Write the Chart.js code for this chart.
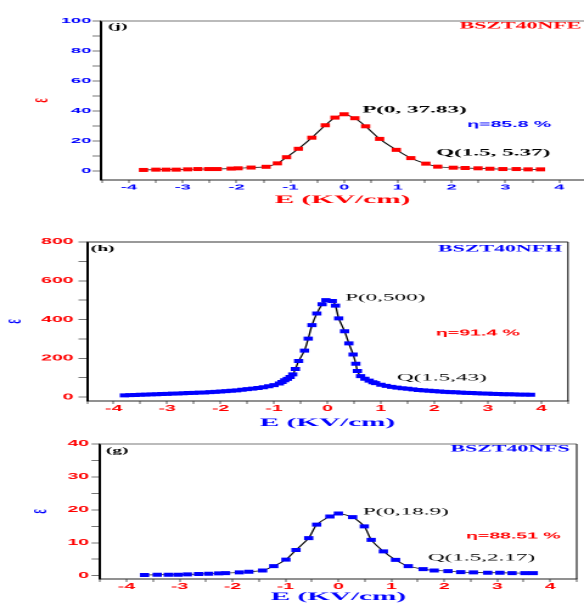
<!DOCTYPE html>
<html>
<head>
<meta charset="utf-8">
<script src="https://cdn.jsdelivr.net/npm/chart.js@4/dist/chart.umd.min.js"></script>
<style>
body { margin: 0; background: #fff; width: 584px; height: 604px; overflow: hidden; position: relative; }
canvas { position: absolute; left: 0; }
</style>
</head>
<body>
<canvas id="grafico_j" width="240" height="207" style="top:0px;width:584px;height:207px"></canvas>
<canvas id="grafico_h" width="240" height="223" style="top:207px;width:584px;height:223px"></canvas>
<canvas id="grafico_g" width="240" height="174" style="top:430px;width:584px;height:174px"></canvas>
<script>
// (j) BSZT40NFE
var campoJ = [-3.73, -3.5, -3.31, -3.12, -2.91, -2.72, -2.52, -2.36, -2.1, -1.97, -1.73, -1.45, -1.24, -1.07, -0.85, -0.6, -0.35, -0.17, 0,
    0.2, 0.4, 0.66, 0.97, 1.24, 1.52, 1.74, 2.03, 2.25, 2.49, 2.71, 2.95, 3.2, 3.42, 3.65];
var epsJ = [0.7, 0.9, 0.9, 0.9, 1.1, 1.3, 1.3, 1.3, 1.6, 1.8, 2.3, 2.8, 5.1, 9.2, 14.8, 22.2, 30.5, 35.6, 37.83,
    35.2, 29.8, 21.4, 14.1, 8.6, 4.9, 2.9, 2.2, 2.0, 1.8, 1.5, 1.3, 1.3, 1.1, 1.1];

// (h) BSZT40NFH
var campoH = [-3.8, -3.7, -3.6, -3.5, -3.4, -3.3, -3.2, -3.1, -3.0, -2.9, -2.8, -2.7, -2.6, -2.5, -2.4, -2.3, -2.2, -2.1, -2.0, -1.9,
    -1.8, -1.7, -1.6, -1.5, -1.4, -1.3, -1.2, -1.1, -1.0, -0.9,
    -0.85, -0.8, -0.75, -0.7, -0.65, -0.6, -0.54, -0.43, -0.36, -0.29, -0.2, -0.1, -0.03, 0.09, 0.15, 0.21, 0.32, 0.4, 0.48, 0.53,
    0.56, 0.62, 0.7, 0.78, 0.85,
    0.9, 1.0, 1.1, 1.2, 1.3, 1.4, 1.5, 1.6, 1.7, 1.8, 1.9, 2.0, 2.1, 2.2, 2.3, 2.4, 2.5, 2.6, 2.7, 2.8, 2.9, 3.0, 3.1, 3.2, 3.3,
    3.4, 3.5, 3.6, 3.7, 3.8];
var epsH = [9, 10, 11, 12, 13, 14, 15, 16, 17, 18, 19, 20, 21, 22, 23, 24, 26, 27, 29, 31,
    33, 35, 38, 41, 44, 47, 51, 56, 62, 70,
    78, 87, 94, 104, 117, 145, 186, 240, 302, 371, 431, 479, 500, 496, 472, 406, 340, 277, 220, 172,
    135, 108, 95, 85, 77,
    72, 64, 58, 53, 49, 46, 43, 40, 37, 35, 33, 31, 29, 27, 26, 25, 23, 22, 21, 20, 19, 18, 17, 16, 15,
    15, 14, 13, 13, 12];

// (g) BSZT40NFS
var campoG = [-3.66, -3.42, -3.21, -3.03, -2.85, -2.64, -2.45, -2.26, -2.13, -1.87, -1.69, -1.43, -1.22, -0.99, -0.8, -0.56, -0.41, -0.16, 0,
    0.27, 0.49, 0.62, 0.85, 1.08, 1.32, 1.6, 1.81, 2.07, 2.31, 2.55, 2.82, 3.05, 3.28, 3.52, 3.68];
var epsG = [0.2, 0.3, 0.3, 0.3, 0.4, 0.5, 0.6, 0.7, 0.8, 1.0, 1.2, 1.6, 2.9, 4.9, 7.8, 11.4, 15.5, 18.0, 18.9,
    17.8, 15.0, 10.9, 7.4, 4.8, 2.9, 2.0, 1.6, 1.4, 1.1, 1.0, 0.9, 0.9, 0.8, 0.8, 0.8];

var VERMELHO = '#ff0000';
var AZUL = '#0000ff';

geraGrafico('grafico_j', {
    campo: campoJ, eps: epsJ, marca: VERMELHO, rotulos: AZUL, tituloX: VERMELHO, tituloY: VERMELHO,
    yMin: -6, yMax: 100, yPasso: 10, yRotulo: 20, xMin: -4.52, xMax: 4.46,
    padding: {top: 21, left: 11, right: 0, bottom: 0}, largY: 30.5, altX: 27,
    fonteTick: 7.5, folgaY: 0.5,
    topo: '#777', direita: false,
    textos: [
        {t: '(j)', x: -4.39, y: 96, cor: '#000', fonte: 'bold 8px "Liberation Serif"'},
        {t: 'BSZT40NFE', x: 4.41, y: 96.5, cor: VERMELHO, fonte: 'bold 9px "Liberation Serif"', alinha: 'right'},
        {t: 'P(0, 37.83)', x: 0.335, y: 40.7, cor: '#000', fonte: 'bold 9.5px "Liberation Serif"'},
        {t: 'η=85.8 %', x: 2.29, y: 30.7, cor: AZUL, fonte: 'bold 8px "Liberation Sans"'},
        {t: 'Q(1.5, 5.37)', x: 1.71, y: 12, cor: '#000', fonte: 'bold 9.5px "Liberation Serif"'}
    ]
});

geraGrafico('grafico_h', {
    campo: campoH, eps: epsH, marca: AZUL, rotulos: VERMELHO, tituloX: AZUL, tituloY: AZUL,
    yMin: -20, yMax: 800, yPasso: 100, yRotulo: 200, xMin: -4.5, xMax: 4.5,
    padding: {top: 35, left: 0, right: 6.6, bottom: 0}, largY: 35.75, altX: 29,
    fonteTick: 8, folgaY: 2,
    topo: '#333', direita: true,
    textos: [
        {t: '(h)', x: -4.43, y: 764, cor: '#000', fonte: 'bold 8px "Liberation Serif"'},
        {t: 'BSZT40NFH', x: 4.39, y: 764, cor: AZUL, fonte: 'bold 9px "Liberation Serif"', alinha: 'right'},
        {t: 'P(0,500)', x: 0.33, y: 511, cor: '#000', fonte: '9.5px "Liberation Serif"'},
        {t: 'η=91.4 %', x: 2.03, y: 330, cor: VERMELHO, fonte: 'bold 8px "Liberation Sans"'},
        {t: 'Q(1.5,43)', x: 1.30, y: 98, cor: '#000', fonte: '9.5px "Liberation Serif"'}
    ]
});

geraGrafico('grafico_g', {
    campo: campoG, eps: epsG, marca: AZUL, rotulos: VERMELHO, tituloX: AZUL, tituloY: AZUL,
    yMin: -1, yMax: 40, yPasso: 5, yRotulo: 10, xMin: -4.5, xMax: 4.5,
    padding: {top: 14, left: 10.2, right: 3, bottom: 0}, largY: 30.9, altX: 25,
    fonteTick: 8, folgaY: 1,
    topo: '#777', direita: true,
    textos: [
        {t: '(g)', x: -4.39, y: 37.9, cor: '#000', fonte: 'bold 8px "Liberation Serif"'},
        {t: 'BSZT40NFS', x: 4.37, y: 38.5, cor: AZUL, fonte: 'bold 9px "Liberation Serif"', alinha: 'right'},
        {t: 'P(0,18.9)', x: 0.46, y: 19.4, cor: '#000', fonte: '9.5px "Liberation Serif"'},
        {t: 'η=88.51 %', x: 2.41, y: 12, cor: VERMELHO, fonte: 'bold 8px "Liberation Sans"'},
        {t: 'Q(1.5,2.17)', x: 1.69, y: 5.4, cor: '#000', fonte: '9.5px "Liberation Serif"'}
    ]
});

function geraGrafico(id, p) {
    var pontos = [];
    for (var i = 0; i < p.campo.length; i++) {
        pontos[i] = {x: p.campo[i], y: p.eps[i]};
    }
    // moldura de cima / direita e os textos dentro do grafico
    var moldura = {
        id: 'moldura',
        afterDraw: function (chart) {
            var ctx = chart.ctx;
            var a = chart.chartArea;
            ctx.save();
            ctx.lineWidth = 1;
            ctx.strokeStyle = p.topo;
            ctx.beginPath();
            ctx.moveTo(a.left, a.top);
            ctx.lineTo(a.right, a.top);
            ctx.stroke();
            if (p.direita) {
                ctx.lineWidth = 0.6;
                ctx.strokeStyle = '#222';
                ctx.beginPath();
                ctx.moveTo(a.right, a.top);
                ctx.lineTo(a.right, a.bottom);
                ctx.stroke();
            }
            var sx = chart.scales.x, sy = chart.scales.y;
            for (var k = 0; k < p.textos.length; k++) {
                var t = p.textos[k];
                ctx.font = t.fonte;
                ctx.fillStyle = t.cor;
                ctx.textAlign = t.alinha || 'left';
                ctx.textBaseline = 'middle';
                ctx.fillText(t.t, sx.getPixelForValue(t.x), sy.getPixelForValue(t.y));
            }
            ctx.restore();
        }
    };
    var fonteTick = {family: 'Liberation Sans', weight: 'bold', size: p.fonteTick};
    new Chart(document.getElementById(id), {
        type: 'scatter',
        data: {
            datasets: [{
                data: pontos,
                showLine: true,
                borderColor: '#000',
                borderWidth: 0.7,
                tension: 0.2,
                pointStyle: 'line',
                pointRadius: 1.9,
                pointHoverRadius: 1.9,
                pointBorderWidth: 4,
                pointBorderColor: p.marca,
                pointBackgroundColor: p.marca
            }]
        },
        options: {
            responsive: false,
            animation: false,
            devicePixelRatio: 2,
            events: [],
            layout: {padding: p.padding, autoPadding: false},
            plugins: {legend: {display: false}, tooltip: {enabled: false}},
            scales: {
                x: {
                    type: 'linear',
                    min: p.xMin,
                    max: p.xMax,
                    afterFit: function (s) { s.height = p.altX; },
                    border: {color: '#222', width: 1},
                    grid: {drawOnChartArea: false, color: '#777', lineWidth: 0.6, tickLength: 3},
                    ticks: {
                        stepSize: 0.5, includeBounds: false, autoSkip: false, maxRotation: 0, padding: 0,
                        color: p.rotulos, font: fonteTick,
                        callback: function (v) { return Number.isInteger(v) ? v : ''; }
                    },
                    title: {
                        display: true, text: 'E (KV/cm)', color: p.tituloX, padding: 0,
                        font: {family: 'Liberation Serif', weight: 'bold', size: 12}
                    }
                },
                y: {
                    min: p.yMin,
                    max: p.yMax,
                    afterFit: function (s) { s.width = p.largY; },
                    border: {color: '#000', width: 1},
                    grid: {drawOnChartArea: false, color: '#777', lineWidth: 1, tickLength: 3.5},
                    ticks: {
                        stepSize: p.yPasso, includeBounds: false, autoSkip: false, padding: p.folgaY,
                        color: p.rotulos, font: fonteTick,
                        callback: function (v) { return v % p.yRotulo === 0 ? v : ''; }
                    },
                    title: {
                        display: true, text: 'ε', color: p.tituloY, padding: 0,
                        font: {family: 'Liberation Serif', weight: 'bold', size: 10}
                    }
                }
            }
        },
        plugins: [moldura]
    });
}
</script>
</body>
</html>
